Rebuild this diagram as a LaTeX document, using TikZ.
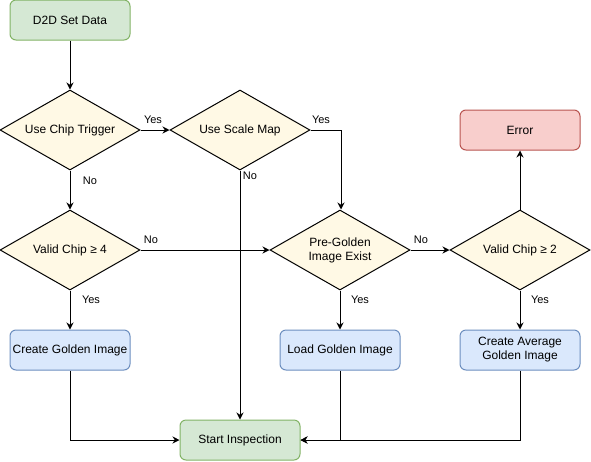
\documentclass[tikz,border=0pt]{standalone}
\usepackage{fontspec}
\setmainfont{Liberation Sans}
\usetikzlibrary{shapes.geometric,arrows.meta}
\definecolor{gfill}{HTML}{D5E8D4}
\definecolor{gline}{HTML}{82B366}
\definecolor{bfill}{HTML}{DAE8FC}
\definecolor{bline}{HTML}{6C8EBF}
\definecolor{rfill}{HTML}{F8CECC}
\definecolor{rline}{HTML}{B85450}
\definecolor{dfill}{HTML}{FFF9E5}
\begin{document}
\begin{tikzpicture}[x=1pt,y=-1pt,
  font=\fontsize{12}{14}\selectfont,
  box/.style={rectangle,rounded corners=6pt,minimum width=120pt,minimum height=40pt,inner sep=0pt,line width=1pt,align=center},
  greenbox/.style={box,draw=gline,fill=gfill},
  bluebox/.style={box,draw=bline,fill=bfill},
  redbox/.style={box,draw=rline,fill=rfill},
  decision/.style={diamond,aspect=1.75,minimum width=140pt,minimum height=80pt,inner sep=0pt,draw=black,fill=dfill,line width=1pt,align=center},
  conn/.style={line width=1pt,-{Stealth[length=7pt,width=7pt]}},
  lbl/.style={font=\fontsize{11}{13}\selectfont,inner sep=0pt}]
\useasboundingbox (0,0) rectangle (591,461);

\node[greenbox] (d2d) at (70,20) {D2D Set Data};
\node[decision] (uct) at (70,130) {Use Chip Trigger};
\node[decision] (usm) at (240,130) {Use Scale Map};
\node[decision] (vc4) at (70,250) {Valid Chip ≥ 4};
\node[decision] (pge) at (340,250) {Pre-Golden\\Image Exist};
\node[decision] (vc2) at (520,250) {Valid Chip ≥ 2};
\node[redbox] (err) at (520,130) {Error};
\node[bluebox] (cgi) at (70,350) {Create Golden Image};
\node[bluebox] (lgi) at (340,350) {Load Golden Image};
\node[bluebox] (cag) at (520,350) {Create Average\\Golden Image};
\node[greenbox] (si) at (240,440) {Start Inspection};

\coordinate (c1) at (341,130);
\coordinate (c2) at (70,440);
\coordinate (c3) at (340,440);
\coordinate (c4) at (520,440);

\draw[conn] (d2d) -- (uct);
\draw[conn] (uct) -- (usm);
\draw[conn] (uct) -- (vc4);
\draw[conn] (usm.east) -- (c1) -- (pge.north -| c1);
\draw[conn] (usm) -- (si);
\draw[conn] (vc4) -- (pge);
\draw[conn] (vc4) -- (cgi);
\draw[conn] (pge) -- (vc2);
\draw[conn] (pge) -- (lgi);
\draw[conn] (vc2) -- (err);
\draw[conn] (vc2) -- (cag);
\draw[conn] (cgi.south) -- (c2) -- (si.west);
\draw[conn] (lgi.south) -- (c3) -- (si.east);
\draw[conn] (cag.south) -- (c4) -- (si.east);

\node[lbl] at (153,120) {Yes};
\node[lbl] at (90,181) {No};
\node[lbl] at (321,120) {Yes};
\node[lbl] at (250,176) {No};
\node[lbl] at (151,240) {No};
\node[lbl] at (91,300) {Yes};
\node[lbl] at (421,240) {No};
\node[lbl] at (360,300) {Yes};
\node[lbl] at (540,300) {Yes};
\end{tikzpicture}
\end{document}
